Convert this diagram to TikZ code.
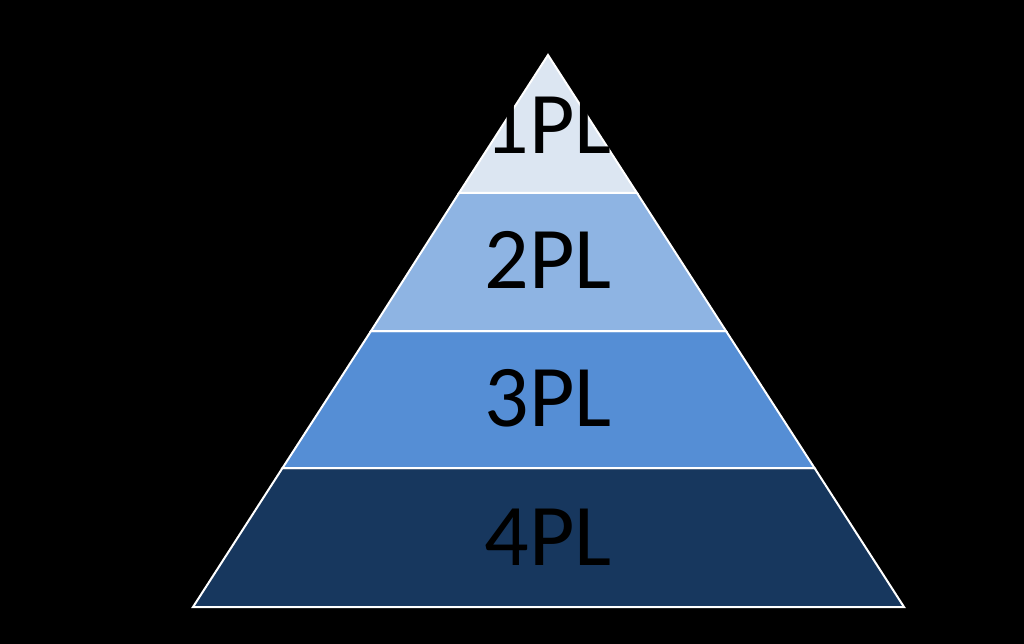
\documentclass[tikz,border=0pt]{standalone}
\usepackage{fontspec}
\setmainfont{Carlito}
\definecolor{c1}{HTML}{DCE6F2}
\definecolor{c2}{HTML}{8EB4E3}
\definecolor{c3}{HTML}{558ED5}
\definecolor{c4}{HTML}{17375E}
\begin{document}
\begin{tikzpicture}[x=1pt,y=-1pt,lvl/.style={draw=white,line width=2pt,line join=miter},
 lab/.style={font=\fontsize{88}{88}\selectfont,text=black,inner sep=0pt}]
\fill[black] (0,0) rectangle (1024,644);
\useasboundingbox (0,0) rectangle (1024,644);
% apex (548,55), base (193,607)-(904,607)
\path[lvl,fill=c4] (282.5,468) -- (814.5,468) -- (904,607) -- (193,607) -- cycle;
\path[lvl,fill=c3] (371,331) -- (726,331) -- (814.5,468) -- (282.5,468) -- cycle;
\path[lvl,fill=c2] (459,193) -- (637,193) -- (726,331) -- (371,331) -- cycle;
\path[lvl,fill=c1] (548,55) -- (637,193) -- (459,193) -- cycle;
\node[lab] (l1) at (548,125) {1PL};
\node[lab] (l2) at (548,260) {2PL};
\node[lab] (l3) at (548,398) {3PL};
\node[lab] (l4) at (548,537) {4PL};
\end{tikzpicture}
\end{document}
